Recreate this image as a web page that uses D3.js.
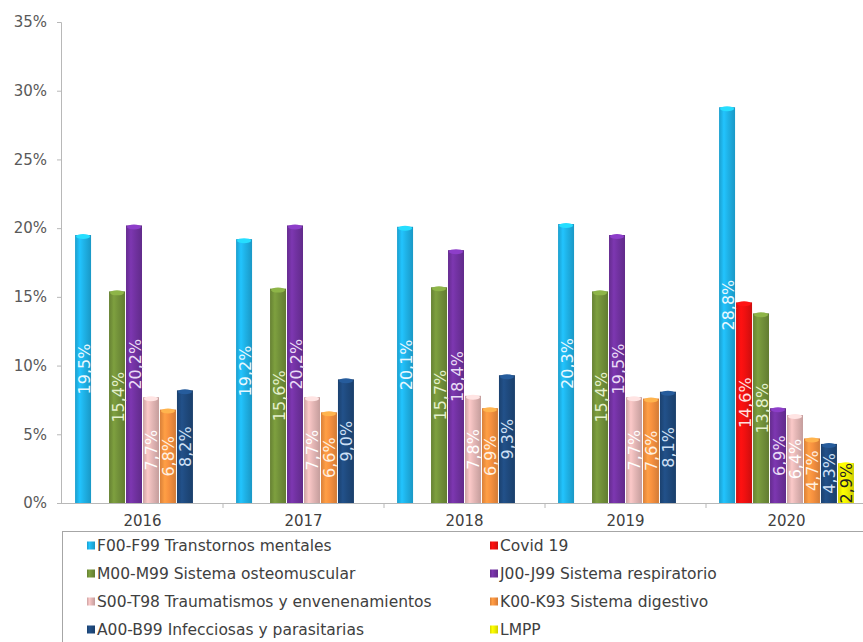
<!DOCTYPE html>
<html>
<head>
<meta charset="utf-8">
<script src="https://cdnjs.cloudflare.com/ajax/libs/d3/7.8.5/d3.min.js"></script>
<style>
  html, body { margin: 0; padding: 0; background: #fff; }
  svg { display: block; }
</style>
</head>
<body>
<svg id="chart" width="863" height="642"></svg>
<script>
// ---- data ----
const years = ["2016", "2017", "2018", "2019", "2020"];
const seriesNames = [
  "F00-F99 Transtornos mentales",
  "Covid 19",
  "M00-M99 Sistema osteomuscular",
  "J00-J99 Sistema respiratorio",
  "S00-T98 Traumatismos y envenenamientos",
  "K00-K93 Sistema digestivo",
  "A00-B99 Infecciosas y parasitarias",
  "LMPP"
];
const seriesColors = ["#1fb3e8", "#f01010", "#73923a", "#7232a2", "#e6b8b7", "#f7913f", "#1f4a7e", "#f2f200"];
const labelColors = ["#e8f8ff", "#ffe0e0", "#e4f0cc", "#eadcf6", "#ffffff", "#fff0e0", "#cfe0f5", "#222222"];
const F00 = [19.5, 19.2, 20.1, 20.3, 28.8];
const covid = [null, null, null, null, 14.6];
const M00 = [15.4, 15.6, 15.7, 15.4, 13.8];
const J00 = [20.2, 20.2, 18.4, 19.5, 6.9];
const S00 = [7.7, 7.7, 7.8, 7.7, 6.4];
const K00 = [6.8, 6.6, 6.9, 7.6, 4.7];
const A00 = [8.2, 9.0, 9.3, 8.1, 4.3];
const LMPP = [null, null, null, null, 2.9];
const seriesValues = [F00, covid, M00, J00, S00, K00, A00, LMPP];
const yTicks = [0, 5, 10, 15, 20, 25, 30, 35];

// ---- layout ----
const svg = d3.select("#chart");
const x0 = d3.scaleBand().domain(years).range([62, 867]).paddingInner(0).paddingOuter(0);
const x1 = d3.scaleBand().domain(d3.range(seriesNames.length)).range([0, x0.bandwidth()])
  .paddingInner(0).paddingOuter(0.74);
const y = d3.scaleLinear().domain([0, 35]).range([503, 22]);
const fmt = v => d3.format(".1f")(v).replace(".", ",") + "%";

// gradients
const defs = svg.append("defs");
seriesColors.forEach((c, i) => {
  const g = defs.append("linearGradient").attr("id", "grad" + i)
    .attr("x1", "0").attr("x2", "1").attr("y1", "0").attr("y2", "0");
  const base = d3.color(c);
  g.append("stop").attr("offset", "0").attr("stop-color", d3.rgb(base).darker(0.35));
  g.append("stop").attr("offset", "0.3").attr("stop-color", d3.rgb(base).brighter(0.25));
  g.append("stop").attr("offset", "0.55").attr("stop-color", base.toString());
  g.append("stop").attr("offset", "1").attr("stop-color", d3.rgb(base).darker(0.45));
});

// y axis
const yAxis = d3.axisLeft(y).tickValues(yTicks).tickSize(4).tickPadding(10)
  .tickFormat(d => d + "%");
const gy = svg.append("g").attr("transform", "translate(61,0)").call(yAxis);
gy.select(".domain").attr("stroke", "#b8b8b8").attr("d", "M-4,22.5H0.5V503.5");
gy.selectAll(".tick line").attr("stroke", "#b8b8b8");
gy.selectAll(".tick text").attr("fill", "#595959")
  .style("font-family", "DejaVu Sans").style("font-size", "15px");

// x axis
const xAxis = d3.axisBottom(x0).tickSize(0).tickPadding(12);
const gx = svg.append("g").attr("transform", "translate(0,503)").call(xAxis);
gx.select(".domain").attr("stroke", "#b8b8b8").attr("d", "M61,0.5H867");
gx.selectAll(".tick text").attr("fill", "#404040")
  .style("font-family", "DejaVu Sans").style("font-size", "15px");
// group separator ticks
svg.append("g").selectAll("line").data(years.slice(1)).join("line")
  .attr("x1", d => x0(d)).attr("x2", d => x0(d))
  .attr("y1", 503).attr("y2", 508).attr("stroke", "#b8b8b8");

// bars
const groups = svg.append("g").selectAll("g").data(years).join("g")
  .attr("transform", d => `translate(${x0(d)},0)`);
const barData = (yr, yi) => seriesValues.map((vals, si) => ({ si, v: vals[yi] }))
  .filter(d => d.v !== null);
groups.each(function (yr, yi) {
  const g = d3.select(this);
  const data = barData(yr, yi);
  const w = x1.bandwidth();
  g.selectAll("rect.bar").data(data).join("rect").attr("class", "bar")
    .attr("x", d => x1(d.si) + 0.5).attr("width", w - 1)
    .attr("y", d => y(d.v)).attr("height", d => y(0) - y(d.v))
    .attr("fill", d => `url(#grad${d.si})`);
  g.selectAll("ellipse.cap").data(data).join("ellipse").attr("class", "cap")
    .attr("cx", d => x1(d.si) + w / 2).attr("cy", d => y(d.v) + 1.5)
    .attr("rx", w / 2 - 1.5).attr("ry", 2.5)
    .attr("fill", d => d3.rgb(seriesColors[d.si]).brighter(0.6));
  g.selectAll("text.lbl").data(data).join("text").attr("class", "lbl")
    .attr("transform", d => `translate(${x1(d.si) + w / 2 + 1},${(y(d.v) + y(0)) / 2}) rotate(-90)`)
    .attr("text-anchor", "middle").attr("dominant-baseline", "central")
    .attr("fill", d => labelColors[d.si])
    .style("font-family", "DejaVu Sans").style("font-size", "16px")
    .text(d => fmt(d.v));
});

// legend
svg.append("rect").attr("x", 62.5).attr("y", 531.5).attr("width", 820).attr("height", 130)
  .attr("fill", "none").attr("stroke", "#a6a6a6");
const legendPos = [
  [87, 546], [490, 546],
  [87, 574], [490, 574],
  [87, 602], [490, 602],
  [87, 630], [490, 630]
];
const lg = svg.append("g").selectAll("g").data(seriesNames).join("g")
  .attr("transform", (d, i) => `translate(${legendPos[i][0]},${legendPos[i][1]})`);
lg.append("rect").attr("x", 0).attr("y", -4.5).attr("width", 8).attr("height", 8)
  .attr("fill", (d, i) => `url(#grad${i})`);
lg.append("text").attr("x", 10).attr("y", 0).attr("dominant-baseline", "central")
  .attr("fill", "#404040")
  .style("font-family", "DejaVu Sans").style("font-size", "15.5px")
  .text(d => d);
</script>
</body>
</html>
